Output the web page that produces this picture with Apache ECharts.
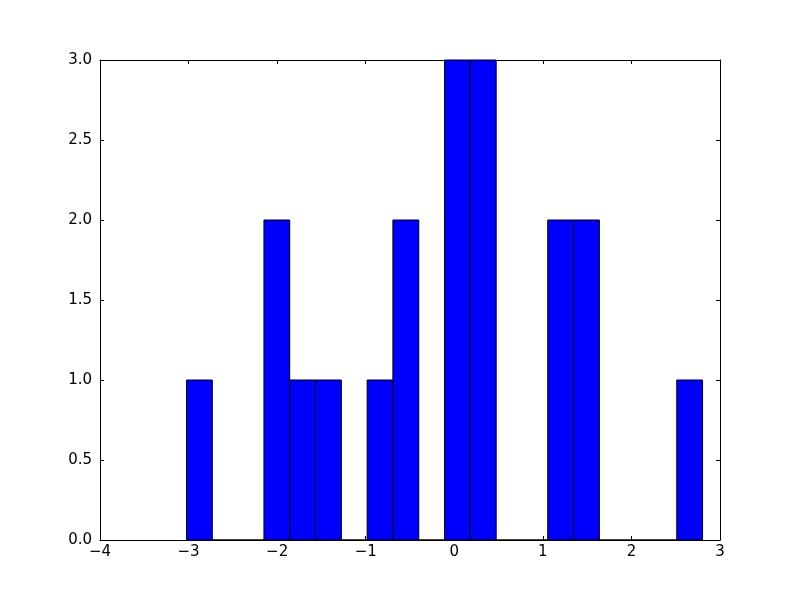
<!DOCTYPE html>
<html>
<head>
<meta charset="utf-8">
<script src="https://cdn.jsdelivr.net/npm/echarts@6/dist/echarts.min.js"></script>
<style>html,body{margin:0;padding:0;background:#fff}#c{width:800px;height:600px}</style>
</head>
<body>
<div id="c"></div>
<script>
var binEdges = [-3.023, -2.732, -2.441, -2.149, -1.858, -1.567, -1.275, -0.984, -0.693, -0.401, -0.110, 0.181, 0.473, 0.764, 1.055, 1.347, 1.638, 1.929, 2.220, 2.512, 2.803];
var counts = [1, 0, 0, 2, 1, 1, 0, 1, 2, 0, 3, 3, 0, 0, 2, 2, 0, 0, 0, 1];
var xTicks = [-4, -3, -2, -1, 0, 1, 2, 3];
var yTicks = [0.0, 0.5, 1.0, 1.5, 2.0, 2.5, 3.0];

var data = counts.map(function (c, i) { return [binEdges[i], binEdges[i + 1], c]; });
function fmtX(v) { return v < 0 ? '\u2212' + Math.abs(v) : String(v); }
function fmtY(v) { return v.toFixed(1); }
var font = { fontFamily: 'DejaVu Sans', fontSize: 15, color: '#000' };

var chart = echarts.init(document.getElementById('c'), null, { renderer: 'canvas' });
var baseX = {
  type: 'value', min: xTicks[0], max: xTicks[xTicks.length - 1], interval: 1,
  axisLine: { show: true, onZero: false, lineStyle: { color: '#000', width: 1 } },
  axisTick: { show: true, inside: true, length: 4, lineStyle: { color: '#000' } },
  splitLine: { show: false }
};
var baseY = {
  type: 'value', min: yTicks[0], max: yTicks[yTicks.length - 1], interval: 0.5,
  axisLine: { show: true, onZero: false, lineStyle: { color: '#000', width: 1 } },
  axisTick: { show: true, inside: true, length: 4, lineStyle: { color: '#000' } },
  splitLine: { show: false }
};
chart.setOption({
  animation: false,
  backgroundColor: '#fff',
  grid: { left: 100, right: 80, top: 60, bottom: 60, containLabel: false },
  xAxis: [
    Object.assign({}, baseX, { position: 'bottom', axisLabel: Object.assign({ margin: 5, formatter: fmtX }, font) }),
    Object.assign({}, baseX, { position: 'top', axisLabel: { show: false } })
  ],
  yAxis: [
    Object.assign({}, baseY, { position: 'left', axisLabel: Object.assign({ margin: 8, formatter: fmtY }, font) }),
    Object.assign({}, baseY, { position: 'right', axisLabel: { show: false } })
  ],
  series: [{
    type: 'custom',
    xAxisIndex: 0, yAxisIndex: 0,
    data: data,
    encode: { x: [0, 1], y: 2 },
    renderItem: function (params, api) {
      var p0 = api.coord([api.value(0), api.value(2)]);
      var p1 = api.coord([api.value(1), 0]);
      return {
        type: 'rect',
        shape: { x: p0[0], y: p0[1], width: p1[0] - p0[0], height: p1[1] - p0[1] },
        style: { fill: '#0000ff', stroke: '#000', lineWidth: 1 }
      };
    }
  }]
});
</script>
</body>
</html>
